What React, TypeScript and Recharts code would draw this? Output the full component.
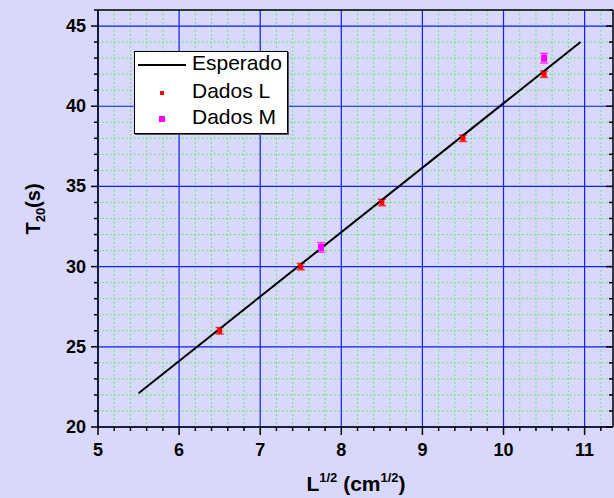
import {
  CartesianGrid,
  ComposedChart,
  ErrorBar,
  Scatter,
  XAxis,
  YAxis,
} from "recharts";

const esperadoX = [5.5, 10.95];
const esperadoT = [22.1, 44.0];

const dadosLX = [6.5, 7.5, 8.5, 9.5, 10.5];
const dadosLT = [26, 30, 34, 38, 42];
const dadosLErr = [0.2, 0.2, 0.2, 0.2, 0.2];

const dadosMX = [7.75, 10.5];
const dadosMT = [31.2, 43.0];
const dadosMErr = [0.3, 0.3];

const xMajorTicks = [5, 6, 7, 8, 9, 10, 11];
const yMajorTicks = [20, 25, 30, 35, 40, 45];
const X_DOMAIN: [number, number] = [5, 11.35];
const Y_DOMAIN: [number, number] = [20, 46];

const xMinorTicks: number[] = [];
for (let i = 0; i <= 31; i++) xMinorTicks.push(Math.round((5 + i * 0.2) * 10) / 10);
const yMinorTicks: number[] = [];
for (let v = 20; v <= 46; v++) yMinorTicks.push(v);

const esperado = esperadoX.map((x, i) => ({ x, y: esperadoT[i] }));
const dadosL = dadosLX.map((x, i) => ({ x, y: dadosLT[i], err: dadosLErr[i] }));
const dadosM = dadosMX.map((x, i) => ({ x, y: dadosMT[i], err: dadosMErr[i] }));

const BG = "#d8d8fa";
const FONT = "'Liberation Sans', Arial, sans-serif";

const isMajorX = (v: number) => xMajorTicks.includes(v);
const isMajorY = (v: number) => yMajorTicks.includes(v);

const BottomTick = ({ x, y, payload }: any) => {
  const major = isMajorX(payload.value);
  return (
    <g>
      <line x1={x} x2={x} y1={y} y2={y + (major ? 8 : 4)} stroke="#000" strokeWidth={1.5} />
      {major && (
        <text x={x} y={y + 29} textAnchor="middle" fontFamily={FONT} fontWeight="bold" fontSize={18} fill="#000">
          {payload.value}
        </text>
      )}
    </g>
  );
};

const TopTick = ({ x, y, payload }: any) => {
  const major = isMajorX(payload.value);
  return <line x1={x} x2={x} y1={y} y2={y + (major ? 7 : 4)} stroke="#000" strokeWidth={1.5} />;
};

const LeftTick = ({ x, y, payload }: any) => {
  const major = isMajorY(payload.value);
  return (
    <g>
      <line x1={x} x2={x - (major ? 7 : 4)} y1={y} y2={y} stroke="#000" strokeWidth={1.5} />
      {major && (
        <text x={x - 12} y={y + 6} textAnchor="end" fontFamily={FONT} fontWeight="bold" fontSize={18} fill="#000">
          {payload.value}
        </text>
      )}
    </g>
  );
};

const RightTick = ({ x, y, payload }: any) => {
  const major = isMajorY(payload.value);
  return <line x1={x} x2={x - (major ? 7 : 4)} y1={y} y2={y} stroke="#000" strokeWidth={1.5} />;
};

const square = (w: number, h: number, fill: string) => (props: any) => (
  <rect x={props.cx - w / 2} y={props.cy - h / 2} width={w} height={h} fill={fill} />
);

const noDot = () => <g />;

export default function App() {
  return (
    <div style={{ position: "fixed", left: 0, top: 0, width: 614, height: 498, background: BG, fontFamily: FONT }}>
      <ComposedChart width={614} height={498} margin={{ top: 9, right: 0, bottom: 0, left: 0 }}>
        <CartesianGrid
          xAxisId="b"
          yAxisId="l"
          horizontalValues={yMinorTicks}
          verticalValues={xMinorTicks}
          stroke="#4ee84e"
          strokeDasharray="1.5 2.5"
          strokeWidth={1}
        />
        <CartesianGrid
          xAxisId="b"
          yAxisId="l"
          horizontalValues={yMajorTicks}
          verticalValues={xMajorTicks}
          stroke="#1a1aff"
          strokeWidth={1.2}
        />
        <XAxis
          xAxisId="b"
          dataKey="x"
          type="number"
          domain={X_DOMAIN}
          ticks={xMinorTicks}
          interval={0}
          allowDataOverflow
          height={71}
          tickSize={0}
          tickMargin={0}
          tick={<BottomTick />}
          axisLine={{ stroke: "#000", strokeWidth: 1.5 }}
        />
        <XAxis
          xAxisId="t"
          orientation="top"
          type="number"
          domain={X_DOMAIN}
          ticks={xMinorTicks}
          interval={0}
          allowDataOverflow
          height={1}
          tickSize={0}
          tickMargin={0}
          tick={<TopTick />}
          axisLine={{ stroke: "#000", strokeWidth: 1.5 }}
        />
        <YAxis
          yAxisId="l"
          type="number"
          domain={Y_DOMAIN}
          ticks={yMinorTicks}
          interval={0}
          allowDataOverflow
          width={98}
          tickSize={0}
          tickMargin={0}
          tick={<LeftTick />}
          axisLine={{ stroke: "#000", strokeWidth: 1.5 }}
        />
        <YAxis
          yAxisId="r"
          orientation="right"
          type="number"
          domain={Y_DOMAIN}
          ticks={yMinorTicks}
          interval={0}
          allowDataOverflow
          width={1}
          tickSize={0}
          tickMargin={0}
          tick={<RightTick />}
          axisLine={{ stroke: "#000", strokeWidth: 1.5 }}
        />
        <Scatter
          xAxisId="b"
          yAxisId="l"
          name="Esperado"
          data={esperado}
          dataKey="y"
          line={{ stroke: "#000", strokeWidth: 2 }}
          shape={noDot}
          isAnimationActive={false}
        />
        <Scatter
          xAxisId="b"
          yAxisId="l"
          name="Dados L"
          data={dadosL}
          dataKey="y"
          shape={square(5, 5, "#ff0000")}
          isAnimationActive={false}
        >
          <ErrorBar dataKey="err" direction="y" width={4} stroke="#ff2a2a" strokeWidth={1.5} />
        </Scatter>
        <Scatter
          xAxisId="b"
          yAxisId="l"
          name="Dados M"
          data={dadosM}
          dataKey="y"
          shape={square(6, 7, "#ff00ff")}
          isAnimationActive={false}
        >
          <ErrorBar dataKey="err" direction="y" width={4} stroke="#ff33ff" strokeWidth={1.5} />
        </Scatter>
      </ComposedChart>

      <svg width={614} height={498} style={{ position: "absolute", left: 0, top: 0, pointerEvents: "none" }}>
        <text
          transform="translate(40, 209) rotate(-90)"
          textAnchor="middle"
          fontFamily={FONT}
          fontWeight="bold"
          fontSize={20}
          fill="#000"
        >
          T<tspan fontSize={13} dy={5}>20</tspan>
          <tspan dy={-5}>(s)</tspan>
        </text>
        <text x={356} y={491} textAnchor="middle" fontFamily={FONT} fontWeight="bold" fontSize={21} fill="#000">
          L<tspan fontSize={13} dy={-9}>1/2</tspan>
          <tspan dy={9}> (cm</tspan>
          <tspan fontSize={13} dy={-9}>1/2</tspan>
          <tspan dy={9}>)</tspan>
        </text>
      </svg>

      <div
        style={{
          position: "absolute",
          left: 134,
          top: 51,
          width: 152,
          height: 81,
          background: "#fff",
          border: "1px solid #000",
          boxShadow: "1px 1px 0 #555",
          fontSize: 21,
          color: "#000",
        }}
      >
        <div style={{ position: "absolute", left: 3, top: 12, width: 48, height: 2, background: "#000" }} />
        <div style={{ position: "absolute", left: 57, top: -2, lineHeight: "26px" }}>Esperado</div>
        <div style={{ position: "absolute", left: 25, top: 39, width: 4, height: 4, background: "#ff0000" }} />
        <div style={{ position: "absolute", left: 57, top: 26, lineHeight: "26px" }}>Dados L</div>
        <div style={{ position: "absolute", left: 24, top: 64, width: 6, height: 6, background: "#ff00ff" }} />
        <div style={{ position: "absolute", left: 57, top: 52, lineHeight: "26px" }}>Dados M</div>
      </div>
    </div>
  );
}
